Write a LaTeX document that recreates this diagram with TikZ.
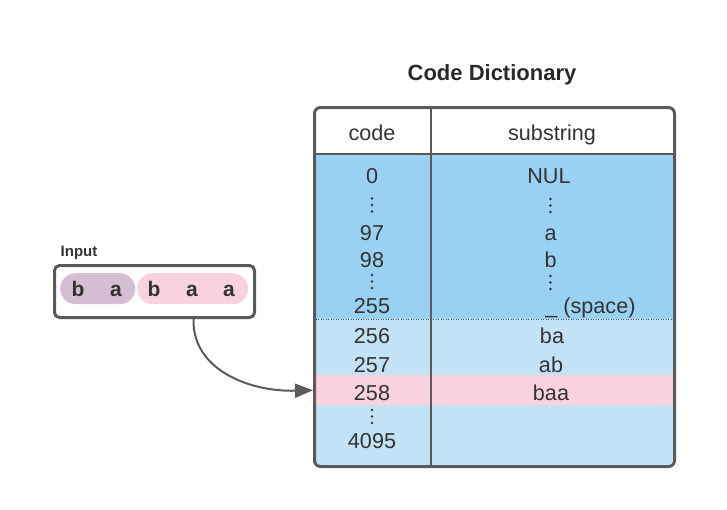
\documentclass[tikz,border=0pt]{standalone}
\usepackage{fontspec}
\setmainfont{Liberation Sans}
\usetikzlibrary{arrows.meta}
\definecolor{ink}{HTML}{333333}
\definecolor{frame}{HTML}{5A5A5A}
\definecolor{basefill}{HTML}{99D1F2}
\definecolor{newfill}{HTML}{C2E3F5}
\definecolor{hitfill}{HTML}{F9D2DE}
\definecolor{pairfill}{HTML}{D5BED4}
\begin{document}
\begin{tikzpicture}[x=1pt,y=-1pt,
  cell/.style={anchor=base,text=ink,font=\fontsize{21.6}{22}\selectfont,inner sep=0pt},
  letter/.style={anchor=base,text=ink,font=\bfseries\fontsize{21}{21}\selectfont,inner sep=0pt},
  pill/.style={anchor=north west,inner sep=0pt,rounded corners=15.5pt,minimum height=31pt},
  boxframe/.style={draw=frame,line width=3pt,anchor=north west,inner sep=0pt},
  dotmark/.style={fill=ink,draw=none}
]
\useasboundingbox (0,0) rectangle (727,509);

% title
\node[anchor=base,text=ink!80!black,font=\bfseries\fontsize{22}{22}\selectfont,inner sep=0pt] (title) at (492,80) {Code Dictionary};

% table background bands
\begin{scope}
  \clip[rounded corners=6pt] (313,106) rectangle (673,465);
  \fill[white] (313,106) rectangle (673,154);
  \fill[basefill] (313,154) rectangle (673,319);
  \fill[newfill] (313,319) rectangle (673,465);
  \node[fill=hitfill,anchor=north west,inner sep=0pt,minimum width=360pt,minimum height=30pt] (row258) at (313,375) {};
\end{scope}
\draw[frame,line width=1pt,dash pattern=on 1pt off 1.5pt] (313,319.5) -- (673,319.5);
\draw[frame,line width=2.5pt] (313,154) -- (673,154);
\draw[frame,line width=2.2pt] (431,106) -- (431,465);
\node[boxframe,rounded corners=6pt,minimum width=360pt,minimum height=359pt] (dict) at (313,106) {};

% header
\node[cell] (hcode) at (372,140) {code};
\node[cell] (hsub) at (552,140) {substring};

% code column
\node[cell] (c0) at (372,183) {0};
\node[cell] (c97) at (372,240) {97};
\node[cell] (c98) at (372,267) {98};
\node[cell] (c255) at (372,313) {255};
\node[cell] (c256) at (372,343) {256};
\node[cell] (c257) at (372,372) {257};
\node[cell] (c258) at (372,400) {258};
\node[cell] (c4095) at (372,448) {4095};

% substring column
\node[cell] (s0) at (549,183) {NUL};
\node[cell] (s97) at (550.5,240) {a};
\node[cell] (s98) at (550.5,267) {b};
\node[cell] (s255) at (590.5,313) {\_ (space)};
\node[cell] (s256) at (552,343) {ba};
\node[cell] (s257) at (551,372) {ab};
\node[cell] (s258) at (551,400) {baa};

% vertical ellipses
\foreach \x/\y in {372/205, 372/281.5, 372/416.5, 550.5/205.5, 550.5/282.5}{
  \foreach \d in {-6.5,0,6.5}
    \fill[dotmark] (\x,\y+\d) circle (1.3pt);
}

% input string
\node[anchor=base west,text=ink,font=\bfseries\fontsize{15}{15}\selectfont,inner sep=0pt] (inlabel) at (60.5,256.5) {Input};
\node[pill,fill=pairfill,minimum width=75pt] (pairba) at (60,273) {};
\node[pill,fill=hitfill,minimum width=111pt] (pairbaa) at (137,273) {};
\node[boxframe,rounded corners=5pt,minimum width=200pt,minimum height=52pt] (input) at (53,264) {};
\node[letter] (l1) at (78,296) {b};
\node[letter] (l2) at (116,296) {a};
\node[letter] (l3) at (154,296) {b};
\node[letter] (l4) at (192,296) {a};
\node[letter] (l5) at (229,296) {a};

% lookup arrow
\draw[frame,line width=2pt,-{Triangle[length=18pt,width=14pt]}]
  ([xshift=39pt]input.south) .. controls (192,370) and (250,392) .. (row258.west);
\end{tikzpicture}
\end{document}
